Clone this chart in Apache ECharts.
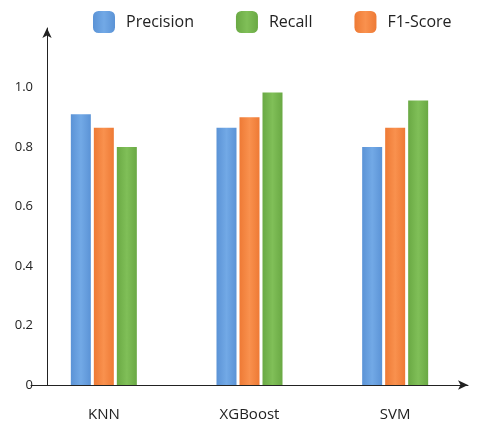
<!DOCTYPE html>
<html><head><meta charset="utf-8">
<script src="https://cdn.jsdelivr.net/npm/echarts@6/dist/echarts.min.js"></script>
<style>html,body{margin:0;background:#fff}#c{width:480px;height:432px}</style>
</head><body><div id="c"></div>
<script>
const categories = ['KNN', 'XGBoost', 'SVM']
const precision = [0.91, 0.865, 0.80]
const f1 = [0.865, 0.90, 0.865]
const recall = [0.80, 0.983, 0.956]
const yTicks = [0, 0.2, 0.4, 0.6, 0.8, 1.0]

function grad(a, b) {
  return new echarts.graphic.LinearGradient(0, 0, 1, 0, [
    { offset: 0, color: a }, { offset: 0.5, color: b }, { offset: 1, color: a }
  ])
}
const blue = grad('#5b93d6', '#72a9e6')
const orange = grad('#ee7a35', '#f9914e')
const green = grad('#6aa944', '#80bf58')

let myChart = echarts.init(document.getElementById('c'))
myChart.setOption({
  animation: false,
  textStyle: { fontFamily: 'Open Sans' },
  legend: {
    top: 6, left: 88,
    data: ['Precision', 'Recall', 'F1-Score'],
    itemWidth: 22, itemHeight: 22, itemGap: 42,
    icon: 'roundRect',
    textStyle: { fontSize: 16, color: '#222', padding: [0, 0, 0, 6] }
  },
  grid: { left: 31, right: 12, top: 28, bottom: 47 },
  xAxis: {
    type: 'category', data: categories,
    axisLine: { lineStyle: { color: '#222' }, symbol: ['none', 'arrow'], symbolSize: [7, 10] },
    axisTick: { show: false },
    axisLabel: { color: '#222', fontSize: 15, margin: 22 }
  },
  yAxis: {
    type: 'value', min: 0, max: 1.2, interval: 0.2, offset: -16,
    axisLine: { show: true, lineStyle: { color: '#222' }, symbol: ['none', 'arrow'], symbolSize: [7, 10] },
    axisTick: { show: false },
    splitLine: { show: false },
    axisLabel: {
      color: '#222', fontSize: 13, margin: 14,
      formatter: v => yTicks.some(t => Math.abs(t - v) < 1e-6) ? (v === 0 ? '0' : v.toFixed(1)) : ''
    }
  },
  series: [
    { name: 'Precision', type: 'bar', data: precision, barWidth: 20, barGap: '15%', itemStyle: { color: blue } },
    { name: 'F1-Score', type: 'bar', data: f1, barWidth: 20, barGap: '15%', itemStyle: { color: orange } },
    { name: 'Recall', type: 'bar', data: recall, barWidth: 20, barGap: '15%', itemStyle: { color: green } }
  ]
})
</script></body></html>
